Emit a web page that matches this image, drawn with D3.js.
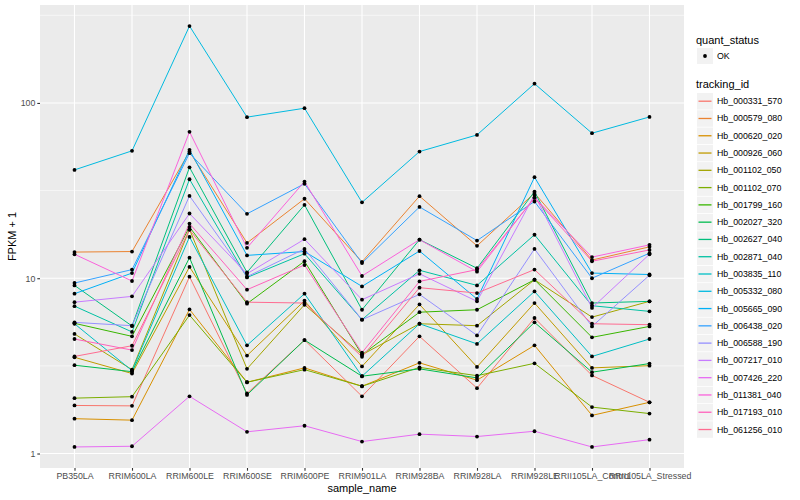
<!DOCTYPE html>
<html>
<head>
<meta charset="utf-8">
<title>FPKM by sample</title>
<script src="https://cdnjs.cloudflare.com/ajax/libs/d3/7.8.5/d3.min.js"></script>
<style>
    body {
        margin: 0;
        background: #fff;
        font-family: "Liberation Sans", Arial, Helvetica, sans-serif;
    }
</style>
</head>
<body>
<svg id="chart" width="800" height="500"></svg>
<script>
    // sample names along x
    const samples = ["PB350LA", "RRIM600LA", "RRIM600LE", "RRIM600SE", "RRIM600PE", "RRIM901LA",
        "RRIM928BA", "RRIM928LA", "RRIM928LE", "RRII105LA_Control", "RRII105LA_Stressed"];

    const trackingIds = ["Hb_000331_570", "Hb_000579_080", "Hb_000620_020", "Hb_000926_060",
        "Hb_001102_050", "Hb_001102_070", "Hb_001799_160", "Hb_002027_320", "Hb_002627_040",
        "Hb_002871_040", "Hb_003835_110", "Hb_005332_080", "Hb_005665_090", "Hb_006438_020",
        "Hb_006588_190", "Hb_007217_010", "Hb_007426_220", "Hb_011381_040", "Hb_017193_010",
        "Hb_061256_010"];

    // FPKM + 1 per sample
    const hb000331_570 = [1.88, 1.87, 10.2, 2.20, 4.44, 2.12, 4.66, 2.36, 5.93, 2.79, 1.96];
    const hb000579_080 = [14.1, 14.2, 52.8, 15.9, 28.4, 12.4, 29.4, 15.3, 30.6, 12.7, 15.1];
    const hb000620_020 = [1.58, 1.55, 6.64, 2.55, 3.08, 2.42, 3.29, 2.62, 4.14, 1.65, 1.96];
    const hb000926_060 = [3.54, 2.86, 11.6, 3.62, 7.44, 3.14, 7.09, 3.12, 7.22, 3.08, 3.17];
    const hb001102_050 = [4.81, 3.01, 19.0, 3.04, 7.06, 3.66, 5.50, 5.36, 9.80, 6.00, 7.38];
    const hb001102_070 = [2.07, 2.11, 6.16, 2.55, 3.01, 2.42, 3.10, 2.78, 3.27, 1.84, 1.69];
    const hb001799_160 = [5.53, 4.66, 19.6, 7.16, 12.5, 3.66, 6.40, 6.61, 9.80, 4.60, 5.31];
    const hb002027_320 = [3.19, 2.93, 13.1, 2.16, 4.44, 2.76, 3.04, 2.70, 5.60, 2.91, 3.26];
    const hb002627_040 = [9.10, 5.34, 42.9, 10.8, 26.2, 6.61, 16.6, 11.4, 31.2, 7.22, 7.38];
    const hb002871_040 = [6.93, 4.94, 36.7, 10.1, 13.8, 5.80, 11.1, 9.10, 17.7, 6.97, 6.47];
    const hb003835_110 = [5.50, 2.97, 17.2, 4.14, 8.16, 2.76, 5.50, 4.22, 8.41, 3.58, 4.50];
    const hb005332_080 = [41.5, 53.3, 274.6, 83.0, 93.3, 27.1, 52.8, 65.7, 128.8, 67.2, 83.2];
    const hb005665_090 = [8.16, 10.7, 54.0, 13.5, 14.2, 8.98, 14.3, 7.61, 37.7, 10.7, 10.5];
    const hb006438_020 = [9.39, 11.2, 51.7, 23.3, 34.6, 12.2, 25.5, 16.4, 27.4, 10.0, 13.9];
    const hb006588_190 = [5.60, 5.36, 29.5, 10.2, 14.7, 5.80, 8.09, 4.72, 14.7, 5.31, 10.4];
    const hb007217_010 = [7.30, 7.88, 23.4, 10.6, 16.7, 7.54, 10.6, 7.38, 29.9, 6.77, 13.7];
    const hb007426_220 = [1.09, 1.10, 2.12, 1.33, 1.44, 1.17, 1.29, 1.25, 1.34, 1.09, 1.20];
    const hb011381_040 = [13.7, 9.64, 68.4, 14.9, 35.6, 10.3, 16.6, 10.9, 28.9, 13.2, 15.5];
    const hb017193_010 = [4.50, 3.89, 20.5, 8.60, 11.9, 3.76, 9.59, 11.2, 28.7, 12.5, 14.5];
    const hb061256_010 = [3.58, 4.12, 18.9, 7.30, 7.22, 3.56, 8.83, 8.23, 11.2, 5.50, 5.43];

    const seriesValues = [hb000331_570, hb000579_080, hb000620_020, hb000926_060, hb001102_050,
        hb001102_070, hb001799_160, hb002027_320, hb002627_040, hb002871_040, hb003835_110,
        hb005332_080, hb005665_090, hb006438_020, hb006588_190, hb007217_010, hb007426_220,
        hb011381_040, hb017193_010, hb061256_010];

    const yTicks = [1, 10, 100];
    const yMinorTicks = [3.1623, 31.623, 316.23];

    // ggplot default hue palette for 20 levels
    const palette = ["#F8766D", "#EA8331", "#D89000", "#C09B00", "#A3A500", "#7CAE00", "#39B600",
        "#00BB4E", "#00BF7D", "#00C1A3", "#00BFC4", "#00BAE0", "#00B0F6", "#35A2FF", "#9590FF",
        "#C77CFF", "#E76BF3", "#FA62DB", "#FF62BC", "#FF6C91"];

    const series = trackingIds.map((id, i) => ({
        id,
        points: samples.map((s, j) => ({ sample: s, value: seriesValues[i][j] }))
    }));

    const panel = { left: 40, right: 684, top: 5, bottom: 468 };
    const svg = d3.select("#chart");

    const x = d3.scalePoint()
        .domain(samples)
        .range([panel.left, panel.right])
        .padding(0.6);

    // log scale with ggplot's 5% expansion in log space
    const allValues = seriesValues.flat();
    const lo = Math.log10(d3.min(allValues)), hi = Math.log10(d3.max(allValues));
    const pad = (hi - lo) * 0.05;
    const y = d3.scaleLog()
        .domain([Math.pow(10, lo - pad), Math.pow(10, hi + pad)])
        .range([panel.bottom, panel.top]);

    const color = d3.scaleOrdinal().domain(trackingIds).range(palette);

    // panel background + grid
    svg.append("rect")
        .attr("x", panel.left).attr("y", panel.top)
        .attr("width", panel.right - panel.left).attr("height", panel.bottom - panel.top)
        .attr("fill", "#EBEBEB");

    svg.append("g").selectAll("line")
        .data(yMinorTicks.filter(d => y(d) >= panel.top))
        .join("line")
        .attr("x1", panel.left).attr("x2", panel.right)
        .attr("y1", d => y(d)).attr("y2", d => y(d))
        .attr("stroke", "#fff").attr("stroke-width", 0.55);

    svg.append("g").selectAll("line")
        .data(yTicks)
        .join("line")
        .attr("x1", panel.left).attr("x2", panel.right)
        .attr("y1", d => y(d)).attr("y2", d => y(d))
        .attr("stroke", "#fff").attr("stroke-width", 1.1);

    svg.append("g").selectAll("line")
        .data(samples)
        .join("line")
        .attr("x1", d => x(d)).attr("x2", d => x(d))
        .attr("y1", panel.top).attr("y2", panel.bottom)
        .attr("stroke", "#fff").attr("stroke-width", 1.1);

    // lines
    const line = d3.line()
        .x(d => x(d.sample))
        .y(d => y(d.value));

    svg.append("g").selectAll("path")
        .data(series)
        .join("path")
        .attr("d", d => line(d.points))
        .attr("fill", "none")
        .attr("stroke", d => color(d.id))
        .attr("stroke-width", 1);

    // points
    svg.append("g").selectAll("circle")
        .data(series.flatMap(d => d.points))
        .join("circle")
        .attr("cx", d => x(d.sample))
        .attr("cy", d => y(d.value))
        .attr("r", 1.9)
        .attr("fill", "#000");

    // axes
    const yAxis = svg.append("g")
        .attr("transform", `translate(${panel.left},0)`)
        .call(d3.axisLeft(y).tickValues(yTicks).tickFormat(d3.format("d")).tickSize(2.7).tickPadding(2));
    const xAxis = svg.append("g")
        .attr("transform", `translate(0,${panel.bottom})`)
        .call(d3.axisBottom(x).tickSize(2.7).tickPadding(2));

    for (const ax of [yAxis, xAxis]) {
        ax.select(".domain").remove();
        ax.selectAll(".tick line").attr("stroke", "#333").attr("stroke-width", 1.1);
        ax.selectAll(".tick text")
            .attr("fill", "#4D4D4D")
            .style("font-size", "8.8px")
            .style("font-family", "'Liberation Sans', Arial, sans-serif");
    }

    svg.append("text")
        .attr("x", (panel.left + panel.right) / 2)
        .attr("y", 492)
        .attr("text-anchor", "middle")
        .style("font-size", "11px")
        .text("sample_name");

    svg.append("text")
        .attr("transform", `translate(16,${(panel.top + panel.bottom) / 2}) rotate(-90)`)
        .attr("text-anchor", "middle")
        .style("font-size", "11px")
        .text("FPKM + 1");

    // legends
    const legend = svg.append("g").attr("transform", "translate(696,0)");

    legend.append("text").attr("x", 0).attr("y", 44).style("font-size", "11px").text("quant_status");
    legend.append("rect").attr("x", 1).attr("y", 48).attr("width", 16).attr("height", 16).attr("fill", "#F2F2F2");
    legend.append("circle").attr("cx", 9).attr("cy", 56).attr("r", 1.9).attr("fill", "#000");
    legend.append("text").attr("x", 21).attr("y", 59).style("font-size", "8.8px").text("OK");

    legend.append("text").attr("x", 0).attr("y", 88).style("font-size", "11px").text("tracking_id");

    const keyStep = 17.28;
    const keys = legend.append("g").selectAll("g")
        .data(trackingIds)
        .join("g")
        .attr("transform", (d, i) => `translate(0,${93 + i * keyStep})`);

    keys.append("rect")
        .attr("x", 1).attr("y", 0)
        .attr("width", 16).attr("height", 16.5)
        .attr("fill", "#F2F2F2");
    keys.append("line")
        .attr("x1", 2.5).attr("x2", 15.5)
        .attr("y1", 8.2).attr("y2", 8.2)
        .attr("stroke", d => color(d))
        .attr("stroke-width", 1.3);
    keys.append("text")
        .attr("x", 21).attr("y", 11.2)
        .style("font-size", "8.8px")
        .text(d => d);
</script>
</body>
</html>
